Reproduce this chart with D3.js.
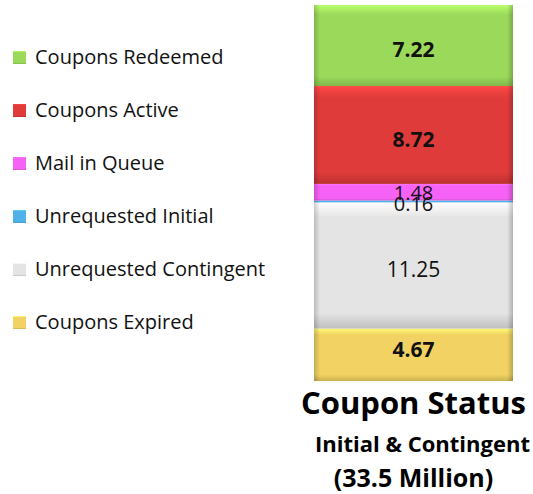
<!DOCTYPE html>
<html>
<head>
<meta charset="utf-8">
<script src="https://cdn.jsdelivr.net/npm/d3@7"></script>
<style>
  body { margin: 0; background: #fff; }
  svg { font-family: "Open Sans", "Liberation Sans", sans-serif; }
</style>
</head>
<body>
<svg id="chart" width="533" height="494"></svg>
<script>
/* DATA, BOTTOM TO TOP */
var categories = ['Coupons Expired', 'Unrequested Contingent', 'Unrequested Initial', 'Mail in Queue', 'Coupons Active', 'Coupons Redeemed'];
var values = [4.67, 11.25, 0.16, 1.48, 8.72, 7.22];
var colors = ['#f1d262', '#e4e4e4', '#4fb3ea', '#f562f5', '#e03b3b', '#9bd95b'];
var boldLabel = [true, false, false, false, true, true];
var titleLines = ['Coupon Status', 'Initial & Contingent', '(33.5 Million)'];

var svg = d3.select('#chart');
var total = d3.sum(values);

/* STACK IT */
var stacked = [];
var run = 0;
for (var i = 0; i < values.length; i++) {
  stacked.push({ name: categories[i], value: values[i], y0: run, y1: run + values[i], color: colors[i], bold: boldLabel[i], idx: i });
  run += values[i];
}

var y = d3.scaleLinear().domain([0, total]).range([381, 5]);
var x = d3.scaleBand().domain(['bar']).range([314, 513]).padding(0);

/* GRADIENTS FOR THE BEVEL LOOK */
var defs = svg.append('defs');
stacked.forEach(function(d) {
  var c = d3.color(d.color);
  var g = defs.append('linearGradient').attr('id', 'vg' + d.idx)
    .attr('x1', 0).attr('y1', 0).attr('x2', 0).attr('y2', 1);
  g.append('stop').attr('offset', '0%').attr('stop-color', c.brighter(0.5));
  g.append('stop').attr('offset', '12%').attr('stop-color', d.color);
  g.append('stop').attr('offset', '88%').attr('stop-color', d.color);
  g.append('stop').attr('offset', '100%').attr('stop-color', c.darker(0.5));
});
var hg = defs.append('linearGradient').attr('id', 'hshade')
  .attr('x1', 0).attr('y1', 0).attr('x2', 1).attr('y2', 0);
hg.append('stop').attr('offset', '0%').attr('stop-color', '#000').attr('stop-opacity', 0.18);
hg.append('stop').attr('offset', '3%').attr('stop-color', '#000').attr('stop-opacity', 0);
hg.append('stop').attr('offset', '97%').attr('stop-color', '#000').attr('stop-opacity', 0);
hg.append('stop').attr('offset', '100%').attr('stop-color', '#000').attr('stop-opacity', 0.22);

var seg = svg.append('g').selectAll('g.seg').data(stacked).enter().append('g').attr('class', 'seg');
seg.append('rect')
  .attr('x', x('bar'))
  .attr('width', x.bandwidth())
  .attr('y', function(d) { return y(d.y1); })
  .attr('height', function(d) { return y(d.y0) - y(d.y1); })
  .attr('fill', function(d) { return 'url(#vg' + d.idx + ')'; });
seg.append('rect')
  .attr('x', x('bar'))
  .attr('width', x.bandwidth())
  .attr('y', function(d) { return y(d.y1); })
  .attr('height', function(d) { return y(d.y0) - y(d.y1); })
  .attr('fill', 'url(#hshade)');

/* VALUE LABELS */
svg.append('g').selectAll('text').data(stacked).enter().append('text')
  .attr('x', x('bar') + x.bandwidth() / 2)
  .attr('y', function(d) {
    var mid = (y(d.y0) + y(d.y1)) / 2;
    // nudge so the digits sit where excel put them
    if (d.name === 'Coupons Expired') return mid - 3;
    if (d.name === 'Unrequested Initial') return mid + 4;
    if (d.name === 'Mail in Queue') return mid + 2;
    return mid + 6;
  })
  .attr('text-anchor', 'middle')
  .attr('dominant-baseline', 'middle')
  .attr('font-size', function(d) { return d.bold ? 21 : (d.value < 2 ? 20 : 21); })
  .attr('font-weight', function(d) { return d.bold ? 'bold' : 'normal'; })
  .attr('fill', '#111')
  .text(function(d) { return d.value.toFixed(2); });

/* LEGEND, TOP TO BOTTOM */
var legendData = stacked.slice().reverse();
var legend = svg.append('g').selectAll('g').data(legendData).enter().append('g')
  .attr('transform', function(d, i) { return 'translate(13,' + (57 + i * 53) + ')'; });
legend.append('rect')
  .attr('x', 0).attr('y', -6).attr('width', 13).attr('height', 13)
  .attr('fill', function(d) { return 'url(#vg' + d.idx + ')'; });
legend.append('rect')
  .attr('x', 0).attr('y', -6).attr('width', 13).attr('height', 13)
  .attr('fill', 'url(#hshade)');
legend.append('text')
  .attr('x', 22).attr('y', 2)
  .attr('dominant-baseline', 'middle')
  .attr('font-size', 20)
  .attr('fill', '#111')
  .text(function(d) { return d.name; });

/* TITLE */
var cx = x('bar') + x.bandwidth() / 2;
svg.append('text').attr('x', cx).attr('y', 414).attr('text-anchor', 'middle')
  .attr('font-size', 31).attr('font-weight', 'bold').attr('fill', '#000').text(titleLines[0]);
svg.append('text').attr('x', cx + 9).attr('y', 452).attr('text-anchor', 'middle')
  .attr('font-size', 22).attr('font-weight', 'bold').attr('fill', '#000').text(titleLines[1]);
svg.append('text').attr('x', cx).attr('y', 487).attr('text-anchor', 'middle')
  .attr('font-size', 25).attr('font-weight', 'bold').attr('fill', '#000').text(titleLines[2]);
</script>
</body>
</html>
